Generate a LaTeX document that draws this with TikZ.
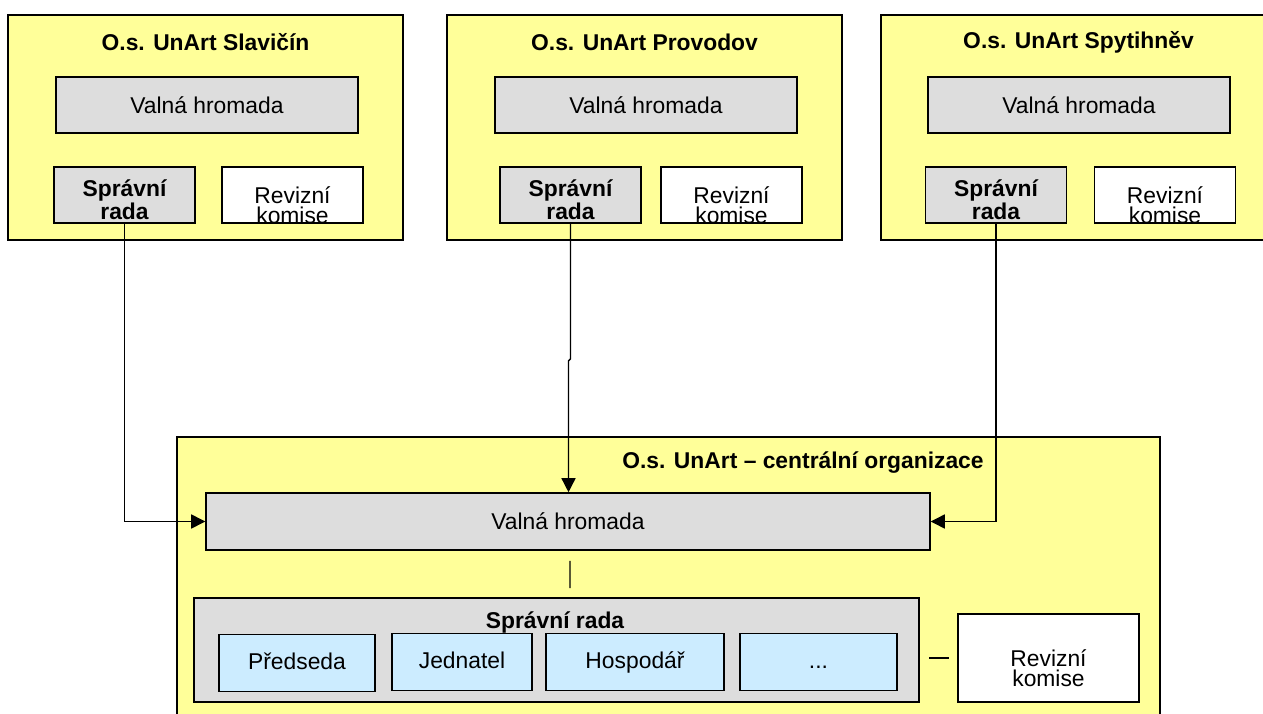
\documentclass[tikz,border=0pt]{standalone}
\usepackage{fontspec}
\setmainfont{Liberation Sans}
\usepackage{tikz}
\usepackage{xcolor}
\usetikzlibrary{shapes.geometric, arrows, arrows.meta, positioning, fit, calc}

\definecolor{orgyellow}{HTML}{FFFF99}
\definecolor{boxgray}{HTML}{DDDDDD}
\definecolor{roleblue}{HTML}{CCECFF}

\tikzset{
    org/.style={draw, rectangle, fill=orgyellow, line width=0.9pt, minimum width=7.9cm, minimum height=4.5cm},
    orgtitle/.style={font=\fontsize{13}{14}\selectfont\bfseries},
    vh/.style={draw, rectangle, fill=boxgray, line width=0.9pt, minimum width=6.04cm, minimum height=1.12cm, font=\fontsize{13}{14}\selectfont},
    spr/.style={draw, rectangle, fill=boxgray, line width=0.9pt, minimum width=2.82cm, minimum height=1.12cm, inner sep=0pt, align=center, text height=28.4pt, text depth=0pt, font=\fontsize{13}{11.4}\selectfont\bfseries},
    rev/.style={draw, rectangle, fill=white, line width=0.9pt, minimum width=2.82cm, minimum height=1.12cm, inner sep=0pt, align=center, text height=32pt, text depth=0pt, font=\fontsize{13}{11.4}\selectfont},
    role/.style={draw, rectangle, fill=roleblue, line width=0.9pt, minimum height=1.14cm, inner sep=0pt, text height=10pt, text depth=3pt, font=\fontsize{13}{14}\selectfont},
    arr/.style={-{Triangle[length=8pt,width=8pt]}, line width=0.8pt}
}

\begin{document}
\begin{tikzpicture}[x=0.02cm, y=-0.02cm]
    \useasboundingbox (0,0) rectangle (1263,713);
    \clip (0,0) rectangle (1263,713);

    % Local organisations
    \node[org] (slav) at (205.5,127.5) {};
    \node[orgtitle] (slavT) at (205.5,42) {O.s. UnArt Slavičín};
    \node[vh] (vh1) at (207,105) {Valná hromada};
    \node[spr] (s1) at (124.5,195) {Správní\\rada};
    \node[rev] (r1) at (292.5,195) {Revizní\\komise};

    \node[org] (prov) at (644.5,127.5) {};
    \node[orgtitle] (provT) at (644.5,42) {O.s. UnArt Provodov};
    \node[vh] (vh2) at (646,105) {Valná hromada};
    \node[spr] (s2) at (570.5,195) {Správní\\rada};
    \node[rev] (r2) at (731.5,195) {Revizní\\komise};

    \node[org] (spyt) at (1078.5,127.5) {};
    \node[orgtitle] (spytT) at (1078.5,42) {O.s. UnArt Spytihněv};
    \node[vh] (vh3) at (1079,105) {Valná hromada};
    \node[spr] (s3) at (996,195) {Správní\\rada};
    \node[rev] (r3) at (1165,195) {Revizní\\komise};

    % Central organisation
    \node[org, minimum width=19.66cm, minimum height=6.06cm] (cent) at (668.5,588.5) {};
    \node[orgtitle] (centT) at (803,463) {O.s. UnArt -- centrální organizace};
    \node[vh, minimum width=14.48cm, minimum height=1.14cm] (vhc) at (568,521.5) {Valná hromada};
    \node[draw, rectangle, fill=boxgray, line width=0.9pt, minimum width=14.5cm, minimum height=2.08cm] (src) at (556.5,650) {};
    \node[orgtitle] (srcT) at (555,622) {Správní rada};
    \node[role, minimum width=3.12cm] (pred) at (297,663) {Předseda};
    \node[role, minimum width=2.8cm] (jedn) at (462,662) {Jednatel};
    \node[role, minimum width=3.56cm] (hosp) at (635,662) {Hospodář};
    \node[role, minimum width=3.14cm] (dots) at (818.5,662) {...};
    \node[rev, minimum width=3.62cm, minimum height=1.76cm] (revc) at (1048.5,658) {Revizní\\komise};

    % Connections
    \draw[arr] (s1.south) |- (vhc.west);
    \coordinate (jog) at ($(s2.south)+(-2,137)$);
    \draw[arr] (s2.south) -- ++(0,135) -- (jog) -- (jog |- vhc.north);
    \draw[arr] (s3.south) |- (vhc.east);
    \draw[line width=0.8pt] ($(vhc.south)+(2,10)$) -- ($(src.north)+(13.5,-9)$);
    \draw[line width=0.8pt] ($(revc.west)+(-28,0)$) -- ($(revc.west)+(-8,0)$);
\end{tikzpicture}
\end{document}
